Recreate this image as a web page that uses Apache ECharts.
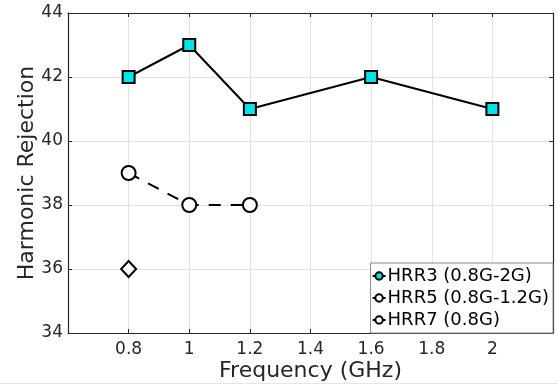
<!DOCTYPE html>
<html>
<head>
<meta charset="utf-8">
<script src="https://cdn.jsdelivr.net/npm/echarts@6/dist/echarts.min.js"></script>
<style>
  html, body { margin: 0; padding: 0; background: #fff; }
  #chart { width: 558px; height: 388px; }
  #rule { position: absolute; left: 0; top: 383px; width: 558px; height: 1px; background: #e6e6e6; }
</style>
</head>
<body>
<div id="chart"></div>
<div id="rule"></div>
<script>
// Frequencies (GHz) and harmonic rejection per harmonic
const hrr3Freq = [0.8, 1, 1.2, 1.6, 2];
const hrr3Vals = [42, 43, 41, 42, 41];
const hrr5Freq = [0.8, 1, 1.2];
const hrr5Vals = [39, 38, 38];
const hrr7Freq = [0.8];
const hrr7Vals = [36];
const seriesNames = ['HRR3 (0.8G-2G)', 'HRR5 (0.8G-1.2G)', 'HRR7 (0.8G)'];
const xTickLabels = ['0.8', '1', '1.2', '1.4', '1.6', '1.8', '2'];

const pairs = (xs, ys) => xs.map((x, i) => [x, ys[i]]);

const fontFam = '"DejaVu Sans", sans-serif';
const textCol = '#262626';
const gridCol = '#e2e2e2';
const axisCol = '#262626';

const chart = echarts.init(document.getElementById('chart'));

const labelFmt = v => {
  const s = String(Math.round(v * 10) / 10);
  return xTickLabels.includes(s) ? s : '';
};

// small "-o-" legend glyph
const legendIcon = 'path://M0,6 L3,6 M3,6 a4,4 0 1,0 8,0 a4,4 0 1,0 -8,0 M11,6 L14,6';

chart.setOption({
  animation: false,
  grid: { left: 68, right: 5, top: 13, bottom: 55 },
  xAxis: [{
    type: 'value', min: 0.6, max: 2.2, interval: 0.2,
    name: 'Frequency (GHz)', nameLocation: 'middle', nameGap: 27, nameMoveOverlap: false,
    nameTextStyle: { fontFamily: fontFam, fontSize: 22, color: textCol },
    axisLine: { lineStyle: { color: axisCol, width: 1.2 } },
    axisTick: { inside: true, length: 4, lineStyle: { color: axisCol } },
    axisLabel: { formatter: labelFmt, fontFamily: fontFam, fontSize: 17, color: textCol, margin: 8, showMinLabel: true, showMaxLabel: true },
    splitLine: { show: true, lineStyle: { color: gridCol, width: 1 } }
  }, {
    type: 'value', position: 'top', min: 0.6, max: 2.2, interval: 0.2,
    axisLine: { show: true, lineStyle: { color: axisCol, width: 1.2 } },
    axisTick: { show: true, inside: true, length: 4, lineStyle: { color: axisCol } },
    axisLabel: { show: false }, splitLine: { show: false }
  }],
  yAxis: [{
    type: 'value', min: 34, max: 44, interval: 2,
    name: 'Harmonic Rejection', nameLocation: 'middle', nameGap: 30, nameMoveOverlap: false,
    nameTextStyle: { fontFamily: fontFam, fontSize: 22, color: textCol },
    axisLine: { show: true, lineStyle: { color: axisCol, width: 1.2 } },
    axisTick: { show: true, inside: true, length: 4, lineStyle: { color: axisCol } },
    axisLabel: { fontFamily: fontFam, fontSize: 17, color: textCol, margin: 5 },
    splitLine: { show: true, lineStyle: { color: gridCol, width: 1 } }
  }, {
    type: 'value', position: 'right', min: 34, max: 44, interval: 2,
    axisLine: { show: true, lineStyle: { color: axisCol, width: 1.2 } },
    axisTick: { show: true, inside: true, length: 4, lineStyle: { color: axisCol } },
    axisLabel: { show: false }, splitLine: { show: false }
  }],
  legend: {
    orient: 'vertical', right: 5, bottom: 55,
    backgroundColor: '#fff', borderColor: '#8a8a8a', borderWidth: 1,
    padding: [4, 4, 4, 1], itemGap: 4, itemWidth: 13, itemHeight: 9,
    textStyle: { fontFamily: fontFam, fontSize: 18, color: '#000', padding: [0, 0, 0, -3] },
    data: [
      { name: seriesNames[0], icon: legendIcon, itemStyle: { color: '#00e6e6', borderColor: '#000', borderWidth: 2 } },
      { name: seriesNames[1], icon: legendIcon, itemStyle: { color: '#fff', borderColor: '#000', borderWidth: 2 } },
      { name: seriesNames[2], icon: legendIcon, itemStyle: { color: '#fff', borderColor: '#000', borderWidth: 2 } }
    ]
  },
  series: [{
    name: seriesNames[0], type: 'line', data: pairs(hrr3Freq, hrr3Vals),
    symbol: 'rect', symbolSize: 12,
    lineStyle: { color: '#000', width: 2 },
    itemStyle: { color: '#00e6e6', borderColor: '#000', borderWidth: 2 }
  }, {
    name: seriesNames[1], type: 'line', data: pairs(hrr5Freq, hrr5Vals),
    symbol: 'circle', symbolSize: 14,
    lineStyle: { color: '#000', width: 2, type: [12, 10] },
    itemStyle: { color: '#fff', borderColor: '#000', borderWidth: 2 }
  }, {
    name: seriesNames[2], type: 'line', data: pairs(hrr7Freq, hrr7Vals),
    symbol: 'diamond', symbolSize: [15, 16],
    lineStyle: { color: '#000', width: 2 },
    itemStyle: { color: '#fff', borderColor: '#000', borderWidth: 2 }
  }]
});
</script>
</body>
</html>
